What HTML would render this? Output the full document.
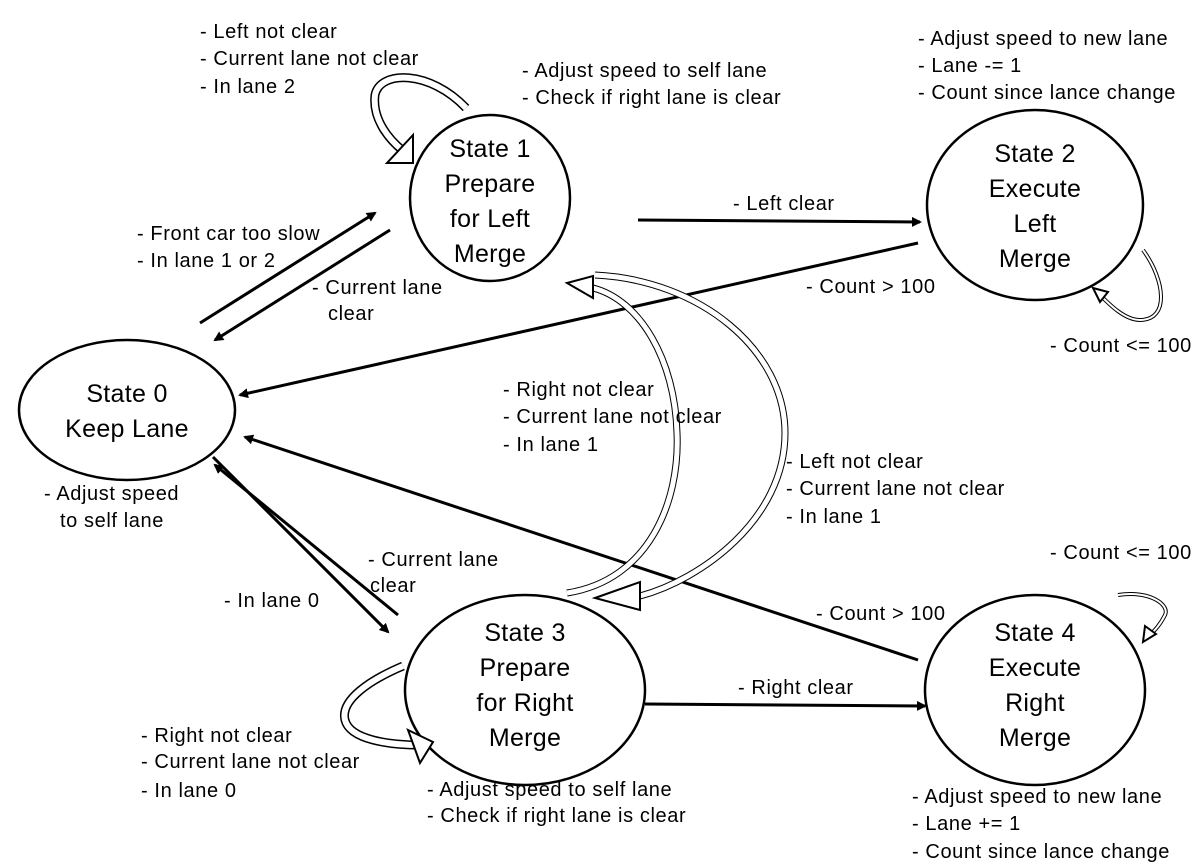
<!DOCTYPE html><html><head><style>body{margin:0;background:#fff}svg{display:block}text{font-family:"Liberation Sans",sans-serif;font-size:20px;letter-spacing:0.6px;fill:#000}.s{font-size:25px;letter-spacing:0.3px}</style></head><body>
<svg width="1195" height="866" viewBox="0 0 1195 866">
<defs><marker id="a" markerWidth="10" markerHeight="10" refX="8" refY="5" orient="auto" markerUnits="userSpaceOnUse"><path d="M0,0 L10,5 L0,10 z" fill="#000"/></marker></defs>
<g fill="none" stroke="#000" stroke-width="2.5">
<ellipse cx="490" cy="198" rx="80" ry="83"/>
<ellipse cx="1035" cy="205" rx="108" ry="95"/>
<ellipse cx="127" cy="410" rx="108" ry="70"/>
<ellipse cx="525" cy="690" rx="120" ry="95"/>
<ellipse cx="1035" cy="690" rx="110" ry="95"/>
</g>
<g stroke="#000" stroke-width="3" marker-end="url(#a)">
<line x1="200" y1="323" x2="375" y2="213"/>
<line x1="390" y1="230" x2="215" y2="340"/>
<line x1="638" y1="220" x2="920" y2="222"/>
<line x1="918" y1="243" x2="240" y2="395"/>
<line x1="918" y1="660" x2="245" y2="437"/>
<line x1="213" y1="457" x2="388" y2="632"/>
<line x1="398" y1="615" x2="215" y2="465"/>
<line x1="645" y1="704" x2="925" y2="706"/>
</g>
<g fill="none">
<path d="M466,108 C430,70 380,70 375,95 C372,120 390,140 402,150" stroke="#000" stroke-width="9"/>
<path d="M466,108 C430,70 380,70 375,95 C372,120 390,140 402,150" stroke="#fff" stroke-width="6"/>
<path d="M403,666 C370,680 340,700 345,720 C350,740 390,745 420,745" stroke="#000" stroke-width="9"/>
<path d="M403,666 C370,680 340,700 345,720 C350,740 390,745 420,745" stroke="#fff" stroke-width="6"/>
<path d="M567,593 C650,580 680,500 677,433 C675,360 640,300 593,288" stroke="#000" stroke-width="7"/>
<path d="M567,593 C650,580 680,500 677,433 C675,360 640,300 593,288" stroke="#fff" stroke-width="5"/>
<path d="M595,275 C700,280 785,350 785,433 C785,520 700,580 640,596" stroke="#000" stroke-width="7"/>
<path d="M595,275 C700,280 785,350 785,433 C785,520 700,580 640,596" stroke="#fff" stroke-width="5"/>
<path d="M1143,250 C1165,280 1170,320 1140,320 C1125,320 1110,305 1100,295" stroke="#000" stroke-width="4"/>
<path d="M1143,250 C1165,280 1170,320 1140,320 C1125,320 1110,305 1100,295" stroke="#fff" stroke-width="2"/>
<path d="M1118,595 C1150,590 1170,605 1165,615 C1160,625 1155,630 1150,635" stroke="#000" stroke-width="4"/>
<path d="M1118,595 C1150,590 1170,605 1165,615 C1160,625 1155,630 1150,635" stroke="#fff" stroke-width="2"/>
</g>
<g fill="#fff" stroke="#000" stroke-width="2">
<polygon points="413,135 413,163 387,163"/>
<polygon points="408,730 433,742 420,763"/>
<polygon points="567,283 593,276 593,298"/>
<polygon points="595,598 640,582 640,610"/>
<polygon points="1093,288 1108,292 1100,302"/>
<polygon points="1143,642 1145,626 1156,634"/>
</g>
<g text-anchor="middle">
<text x="490" y="157" class="s">State 1</text><text x="490" y="192" class="s">Prepare</text><text x="490" y="227" class="s">for Left</text><text x="490" y="262" class="s">Merge</text>
<text x="1035" y="162" class="s">State 2</text><text x="1035" y="197" class="s">Execute</text><text x="1035" y="232" class="s">Left</text><text x="1035" y="267" class="s">Merge</text>
<text x="127" y="402" class="s">State 0</text><text x="127" y="437" class="s">Keep Lane</text>
<text x="525" y="641" class="s">State 3</text><text x="525" y="676" class="s">Prepare</text><text x="525" y="711" class="s">for Right</text><text x="525" y="746" class="s">Merge</text>
<text x="1035" y="641" class="s">State 4</text><text x="1035" y="676" class="s">Execute</text><text x="1035" y="711" class="s">Right</text><text x="1035" y="746" class="s">Merge</text>
</g>
<text x="200" y="38">- Left not clear</text><text x="200" y="65">- Current lane not clear</text><text x="200" y="93">- In lane 2</text>
<text x="522" y="77">- Adjust speed to self lane</text><text x="522" y="104">- Check if right lane is clear</text>
<text x="918" y="45">- Adjust speed to new lane</text><text x="918" y="72">- Lane -= 1</text><text x="918" y="99">- Count since lance change</text>
<text x="733" y="210">- Left clear</text>
<text x="137" y="240">- Front car too slow</text><text x="137" y="267">- In lane 1 or 2</text>
<text x="312" y="294">- Current lane</text><text x="328" y="320">clear</text>
<text x="806" y="293">- Count &gt; 100</text>
<text x="1050" y="352">- Count &lt;= 100</text>
<text x="503" y="396">- Right not clear</text><text x="503" y="423">- Current lane not clear</text><text x="503" y="451">- In lane 1</text>
<text x="786" y="468">- Left not clear</text><text x="786" y="495">- Current lane not clear</text><text x="786" y="523">- In lane 1</text>
<text x="44" y="500">- Adjust speed</text><text x="60" y="527">to self lane</text>
<text x="1050" y="559">- Count &lt;= 100</text>
<text x="368" y="566">- Current lane</text><text x="370" y="592">clear</text>
<text x="224" y="607">- In lane 0</text>
<text x="816" y="620">- Count &gt; 100</text>
<text x="738" y="694">- Right clear</text>
<text x="141" y="742">- Right not clear</text><text x="141" y="768">- Current lane not clear</text><text x="141" y="797">- In lane 0</text>
<text x="427" y="796">- Adjust speed to self lane</text><text x="427" y="822">- Check if right lane is clear</text>
<text x="912" y="803">- Adjust speed to new lane</text><text x="912" y="830">- Lane += 1</text><text x="912" y="858">- Count since lance change</text>
</svg></body></html>
